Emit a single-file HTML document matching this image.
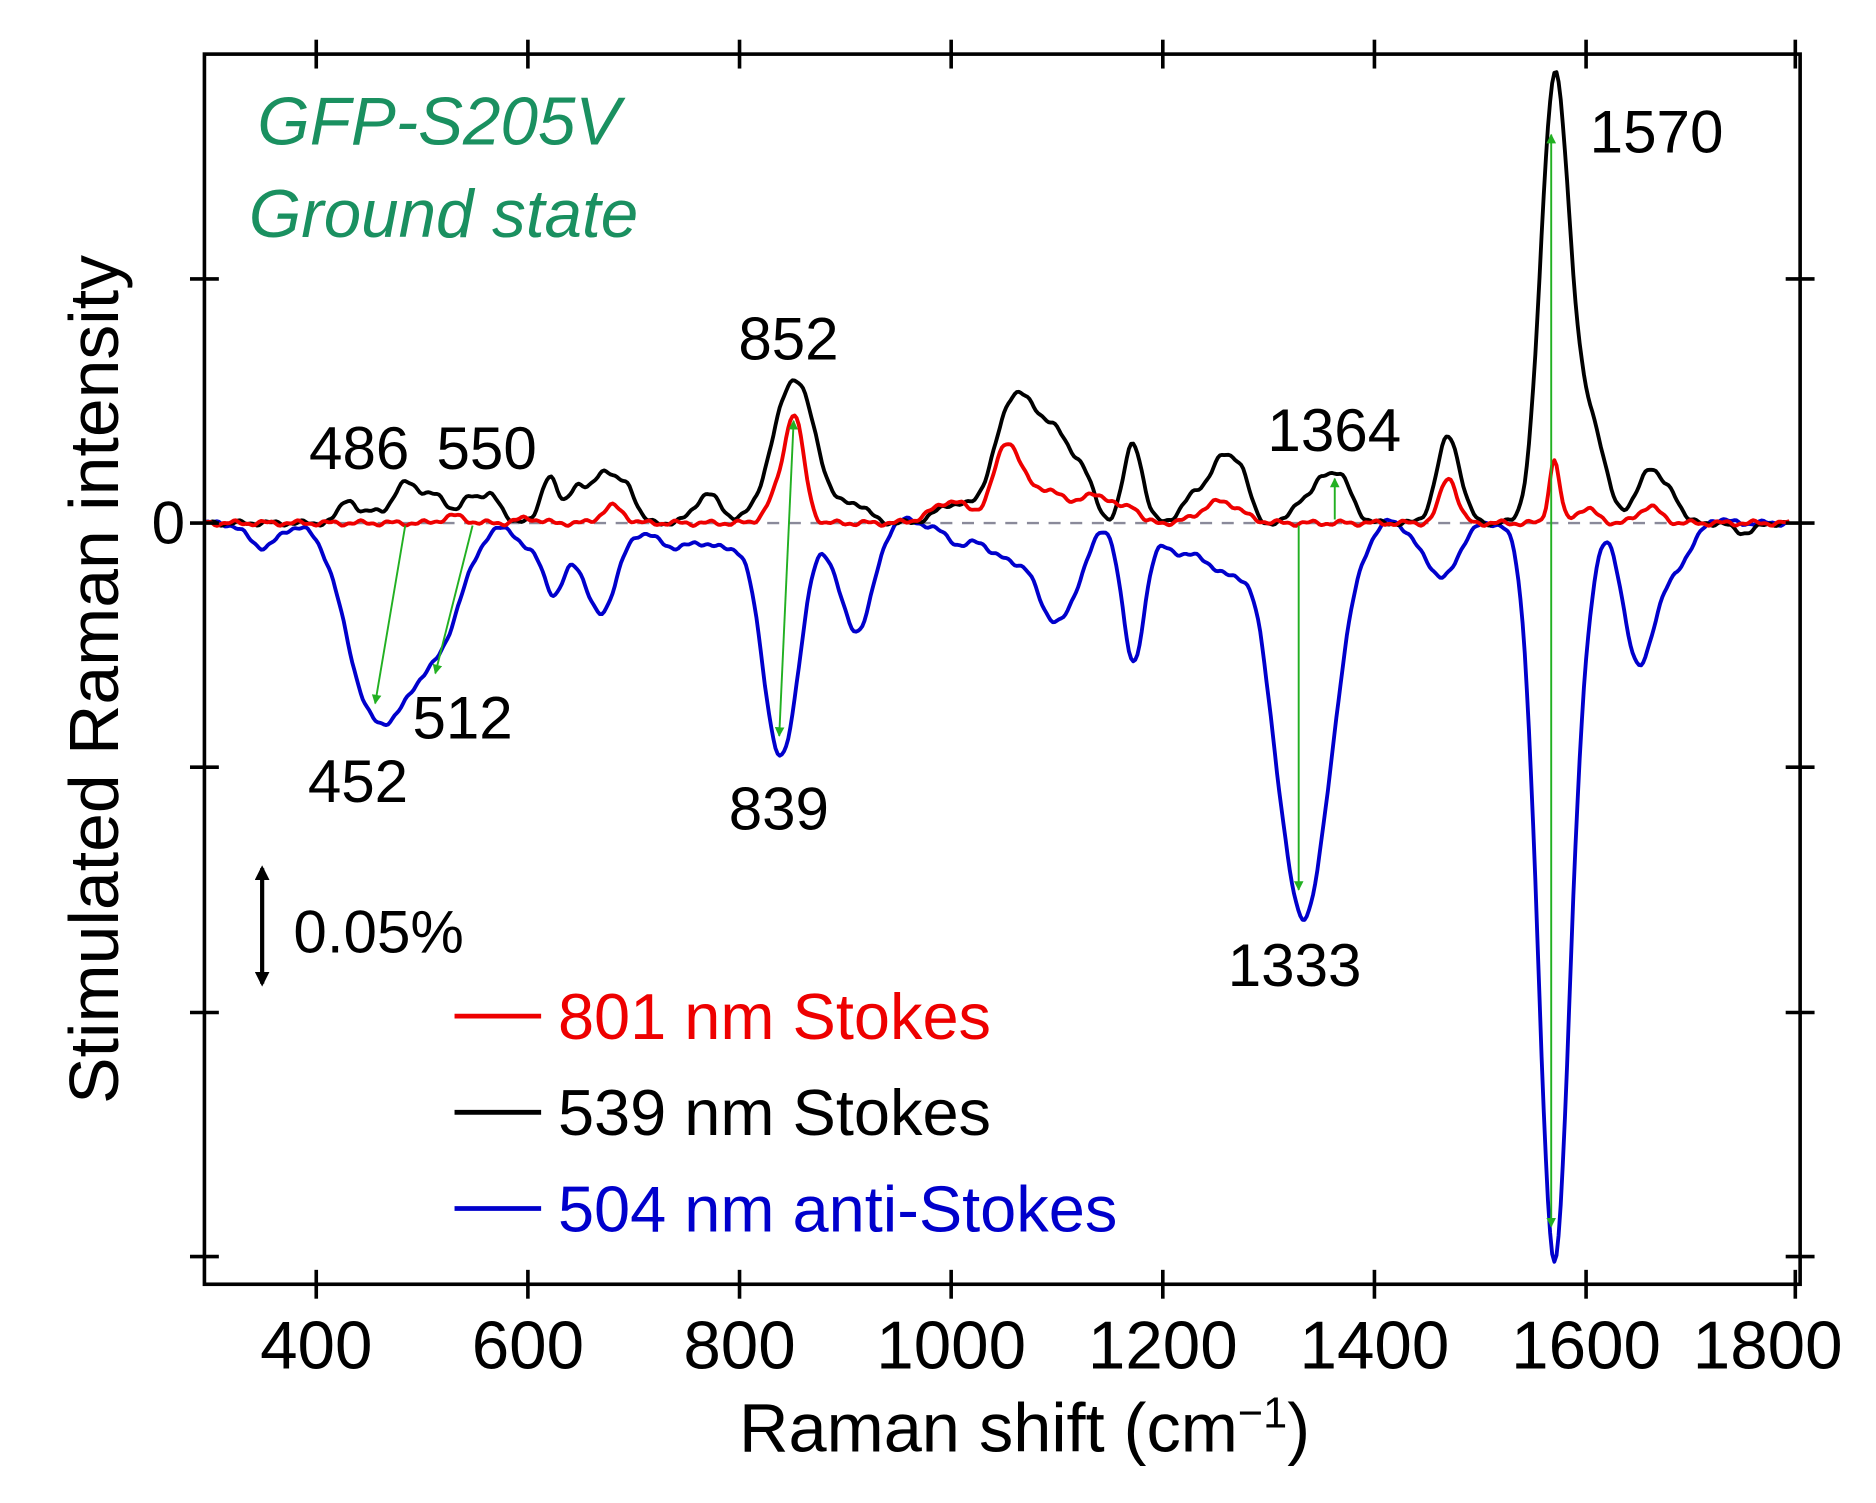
<!DOCTYPE html>
<html><head><meta charset="utf-8"><style>
html,body{margin:0;padding:0;background:#fff;}
svg{display:block;}
text{font-family:"Liberation Sans",Arial,sans-serif;}
</style></head><body>
<svg id="s" width="1876" height="1503" viewBox="0 0 1560.1 1249.9" preserveAspectRatio="none" xmlns="http://www.w3.org/2000/svg">
<defs>
<marker id="ag" viewBox="0 0 10 10" refX="9" refY="5" markerWidth="5" markerHeight="5" orient="auto-start-reverse"><path d="M0,0 L10,5 L0,10 z" fill="#22b022"/></marker>
<marker id="ak" viewBox="0 0 10 10" refX="8" refY="5" markerWidth="3.5" markerHeight="3.5" orient="auto-start-reverse"><path d="M0,0 L10,5 L0,10 z" fill="#000"/></marker>
</defs>
<line x1="170" y1="435" x2="1497" y2="435" stroke="#8a8a9a" stroke-width="2" stroke-dasharray="10,8"/>
<g id="curves"></g>
<g stroke="#22b022" stroke-width="1.6" fill="none">
<line x1="337" y1="437" x2="312" y2="585" marker-end="url(#ag)"/>
<line x1="393" y1="437" x2="362" y2="560" marker-end="url(#ag)"/>
<line x1="648" y1="612" x2="660" y2="350" marker-end="url(#ag)" marker-start="url(#ag)"/>
<line x1="1080" y1="437" x2="1080" y2="740" marker-end="url(#ag)"/>
<line x1="1110" y1="432" x2="1110" y2="398" marker-end="url(#ag)"/>
<line x1="1290" y1="1020" x2="1290" y2="112" marker-end="url(#ag)" marker-start="url(#ag)"/>
</g>
<rect x="170" y="45" width="1327" height="1023" fill="none" stroke="#000" stroke-width="3"/>
<g stroke="#000" stroke-width="3">
<line x1="263" y1="33" x2="263" y2="57"/><line x1="439" y1="33" x2="439" y2="57"/><line x1="615" y1="33" x2="615" y2="57"/><line x1="791" y1="33" x2="791" y2="57"/><line x1="967" y1="33" x2="967" y2="57"/><line x1="1143" y1="33" x2="1143" y2="57"/><line x1="1319" y1="33" x2="1319" y2="57"/><line x1="1493" y1="33" x2="1493" y2="57"/>
<line x1="263" y1="1056" x2="263" y2="1080"/><line x1="439" y1="1056" x2="439" y2="1080"/><line x1="615" y1="1056" x2="615" y2="1080"/><line x1="791" y1="1056" x2="791" y2="1080"/><line x1="967" y1="1056" x2="967" y2="1080"/><line x1="1143" y1="1056" x2="1143" y2="1080"/><line x1="1319" y1="1056" x2="1319" y2="1080"/><line x1="1493" y1="1056" x2="1493" y2="1080"/>
<line x1="158" y1="232" x2="182" y2="232"/><line x1="158" y1="435" x2="182" y2="435"/><line x1="158" y1="638" x2="182" y2="638"/><line x1="158" y1="842" x2="182" y2="842"/><line x1="158" y1="1045" x2="182" y2="1045"/>
<line x1="1485" y1="232" x2="1509" y2="232"/><line x1="1485" y1="435" x2="1509" y2="435"/><line x1="1485" y1="638" x2="1509" y2="638"/><line x1="1485" y1="842" x2="1509" y2="842"/><line x1="1485" y1="1045" x2="1509" y2="1045"/>
</g>
<g font-size="56" text-anchor="middle" fill="#000">
<text x="263" y="1138">400</text><text x="439" y="1138">600</text><text x="615" y="1138">800</text><text x="791" y="1138">1000</text><text x="967" y="1138">1200</text><text x="1143" y="1138">1400</text><text x="1319" y="1138">1600</text><text x="1470" y="1138">1800</text>
</g>
<text x="852" y="1207" font-size="57" text-anchor="middle">Raman shift (cm<tspan dy="-20" font-size="36">−1</tspan><tspan dy="20">)</tspan></text>
<text transform="translate(98,565) rotate(-90)" font-size="58" text-anchor="middle">Stimulated Raman intensity</text>
<text x="140" y="452" font-size="50" text-anchor="middle">0</text>
<g font-size="50" fill="#000">
<text x="1322" y="127">1570</text><text x="614" y="299">852</text><text x="257" y="390">486</text><text x="363" y="390">550</text>
<text x="256" y="667">452</text><text x="343" y="614">512</text><text x="606" y="690">839</text><text x="1054" y="375">1364</text><text x="1021" y="820">1333</text>
<text x="244" y="792">0.05%</text>
</g>
<line x1="218" y1="722" x2="218" y2="818" stroke="#000" stroke-width="3.5" marker-start="url(#ak)" marker-end="url(#ak)"/>
<g font-style="italic" font-size="56" fill="#1a9060">
<text x="214" y="120">GFP-S205V</text><text x="207" y="197">Ground state</text>
</g>
<line x1="378" y1="845" x2="450" y2="845" stroke="#ee0000" stroke-width="4"/>
<line x1="378" y1="925" x2="450" y2="925" stroke="#000" stroke-width="4"/>
<line x1="378" y1="1005" x2="450" y2="1005" stroke="#0000cc" stroke-width="4"/>
<g font-size="54">
<text x="464" y="864" fill="#ee0000">801 nm Stokes</text>
<text x="464" y="944" fill="#000">539 nm Stokes</text>
<text x="464" y="1024" fill="#0000cc">504 nm anti-Stokes</text>
</g>
</svg>
<script>
(function(){
function X(v){return 263+(v-400)*0.88;}
var blue=[[350,-20,14],[452,-150,24],[512,-105,24],[480,-35,15],[625,-58,10],[668,-75,16],[600,-20,10],[740,-20,20],[785,-18,15],[839,-195,17],[910,-90,16],[1010,-18,15],[1060,-28,12],[1040,-15,10],[1105,-76,17],[1085,-25,10],[1172,-113,10],[1220,-25,25],[1260,-30,15],[1333,-328,26],[1465,-45,14],[1440,-10,10],[1570,-612,15],[1648,-100,13],[1675,-45,20],[1600,-30,10],[1720,6,10],[950,6,8],[1290,6,8],[1415,5,8]];
var black=[[430,20,8],[455,10,8],[486,35,12],[515,22,10],[545,20,8],[565,22,10],[620,38,8],[645,28,8],[672,44,12],[695,25,8],[770,24,12],[852,120,20],[910,15,12],[1000,15,15],[1062,108,20],[1100,60,14],[1125,35,10],[1172,66,9],[1230,22,12],[1257,52,12],[1275,30,8],[1330,18,8],[1348,22,8],[1366,40,12],[1470,72,11],[1570,360,13],[1600,90,16],[1660,46,11],[1682,20,8],[1750,-8,10]];
var red=[[530,6,10],[600,4,10],[680,14,10],[852,86,9],[835,20,10],[1000,18,18],[1052,58,12],[1085,28,22],[1140,22,18],[1172,10,6],[1255,18,18],[1470,38,8],[1570,52,5],[1600,12,10],[1660,14,10]];
function path(pk,seed,amp){
 var d="";
 for(var v=296;v<=1792;v+=2){
  var y=0;for(var i=0;i<pk.length;i++){var p=pk[i];var t=(v-p[0])/p[2];y+=p[1]*Math.exp(-0.5*t*t);}
  y+=amp*(Math.sin(v*0.21+seed)+0.6*Math.sin(v*0.53+2*seed));
  d+=(d?"L":"M")+X(v).toFixed(1)+","+(435-y).toFixed(1);
 }
 return d;
}
var g=document.getElementById("curves");var ns="http://www.w3.org/2000/svg";
[[blue,"#0000cc",1,1.5],[black,"#000",2,1.5],[red,"#ee0000",3,1.5]].forEach(function(s){
 var p=document.createElementNS(ns,"path");p.setAttribute("d",path(s[0],s[2],s[3]));
 p.setAttribute("fill","none");p.setAttribute("stroke",s[1]);p.setAttribute("stroke-width","3.2");p.setAttribute("stroke-linejoin","round");
 g.appendChild(p);
});
})();
</script>
</body></html>
